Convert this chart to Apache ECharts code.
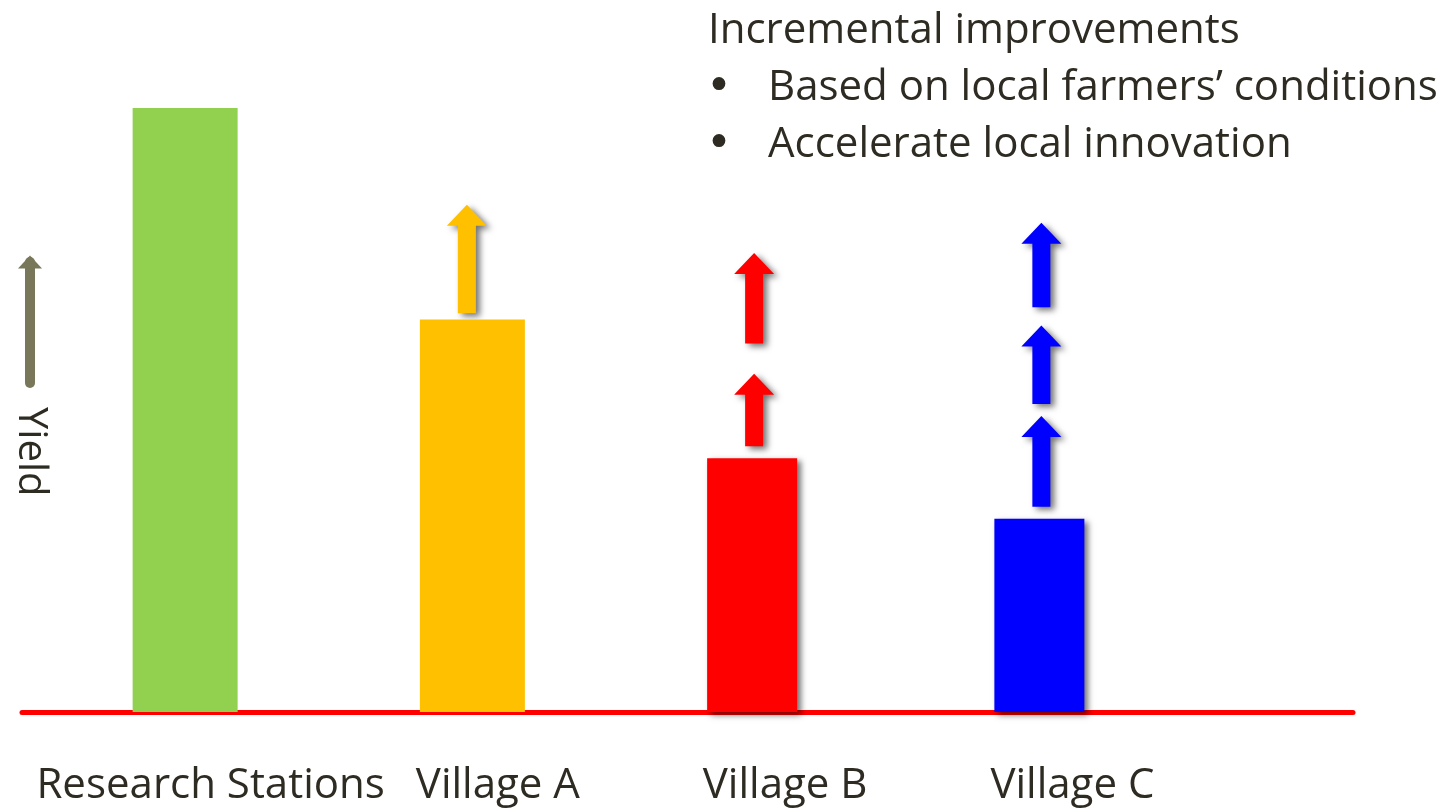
<!DOCTYPE html>
<html>
<head>
<meta charset="utf-8">
<title>Yield gap</title>
<script src="https://cdn.jsdelivr.net/npm/echarts@6/dist/echarts.min.js"></script>
<style>
  html, body { margin: 0; padding: 0; background: #ffffff; }
  #chart { width: 1441px; height: 809px; }
</style>
</head>
<body>
<div id="chart"></div>
<script>
// categories along the baseline
const categories = ['Research Stations', 'Village A', 'Village B', 'Village C']
// bar heights (relative yield, research station = 100)
const yieldValues = [100, 65, 42, 32]
// improvement arrows: [category index, from, to]
const improvementArrows = [
  [1, 66, 84],
  [2, 44, 56],
  [2, 61, 76],
  [3, 34, 49],
  [3, 51, 64],
  [3, 67, 81]
]
const headingLines = ['Incremental improvements']
const bulletLines = ['Based on local farmers\u2019 conditions', 'Accelerate local innovation']

const barColors = ['#92d050', '#ffc000', '#ff0000', '#0000ff']
const textColor = '#2e2b22'
const FONT = '"Open Sans", "DejaVu Sans", sans-serif'
const shadow = {
  shadowBlur: 6,
  shadowColor: 'rgba(0,0,0,0.55)',
  shadowOffsetX: 4,
  shadowOffsetY: 3
}

const chart = echarts.init(document.getElementById('chart'))

// bars: wide ones (station, village A) and narrower ones (village B, C)
const wideData = yieldValues.map((v, i) => (i < 2 ? { value: v, itemStyle: { color: barColors[i] } } : '-'))
const narrowData = yieldValues.map((v, i) =>
  i >= 2 ? { value: v, itemStyle: Object.assign({ color: barColors[i] }, shadow) } : '-'
)

let titleText = headingLines.map(t => '{h|' + t + '}').join('\n')
bulletLines.forEach(t => {
  titleText += '\n{b|\u2022}{t|' + t + '}'
})

const txt = { fontFamily: FONT, fontSize: 42, fontWeight: 'normal', color: textColor, lineHeight: 57 }

chart.setOption({
  animation: false,
  backgroundColor: '#ffffff',
  title: {
    left: 706,
    top: 3,
    padding: 0,
    text: titleText,
    textStyle: {
      fontWeight: 'normal',
      rich: {
        h: Object.assign({}, txt, { padding: [0, 0, 0, 2] }),
        b: Object.assign({}, txt, { width: 62, fontSize: 44, fontFamily: '"DejaVu Sans", sans-serif' }),
        t: txt
      }
    }
  },
  grid: [
    // baseline
    { left: 22, right: 88, top: 108, bottom: 97, outerBoundsMode: 'none' },
    // bars
    { left: 34, right: 258, top: 108, bottom: 97, outerBoundsMode: 'none' },
    // yield arrow
    { left: 30, width: 10, top: 262, bottom: 426, outerBoundsMode: 'none' }
  ],
  xAxis: [
    {
      gridIndex: 0,
      type: 'category',
      data: [''],
      axisLine: { lineStyle: { color: '#ff0000', width: 5 } },
      axisTick: { show: false },
      axisLabel: { show: false }
    },
    {
      gridIndex: 1,
      type: 'category',
      data: categories,
      axisLine: { show: false },
      axisTick: { show: false },
      axisLabel: {
        interval: 0,
        margin: 52,
        fontFamily: FONT,
        fontSize: 42,
        lineHeight: 44,
        color: textColor,
        padding: [0, 0, 0, 66]
      }
    },
    {
      gridIndex: 2,
      type: 'value',
      show: false
    }
  ],
  yAxis: [
    { gridIndex: 0, type: 'value', show: false },
    { gridIndex: 1, type: 'value', min: 0, max: 100, show: false },
    {
      gridIndex: 2,
      type: 'value',
      min: 0,
      max: 1,
      position: 'left',
      axisLine: {
        show: true,
        symbol: ['none', 'triangle'],
        symbolSize: [24, 13],
        lineStyle: { color: '#78775a', width: 10 }
      },
      axisTick: { show: false },
      axisLabel: { show: false },
      splitLine: { show: false },
      name: 'Yield',
      nameLocation: 'start',
      nameGap: 24,
      nameRotate: -90,
      nameTextStyle: { fontFamily: FONT, fontSize: 40, color: textColor }
    }
  ],
  series: [
    {
      type: 'bar',
      xAxisIndex: 1,
      yAxisIndex: 1,
      barWidth: 105,
      barGap: '-100%',
      data: wideData
    },
    {
      type: 'bar',
      xAxisIndex: 1,
      yAxisIndex: 1,
      barWidth: 90,
      barGap: '-100%',
      data: narrowData
    },
    {
      type: 'custom',
      xAxisIndex: 1,
      yAxisIndex: 1,
      data: improvementArrows,
      renderItem(params, api) {
        const c = api.value(0)
        const lo = api.coord([c, api.value(1)])
        const hi = api.coord([c, api.value(2)])
        const x = lo[0] + 2
        const yb = lo[1]
        const yt = hi[1]
        const hw = 20
        const sw = 9
        const hh = 21
        return {
          type: 'polygon',
          shape: {
            points: [
              [x - sw, yb],
              [x - sw, yt + hh],
              [x - hw, yt + hh],
              [x, yt],
              [x + hw, yt + hh],
              [x + sw, yt + hh],
              [x + sw, yb]
            ]
          },
          style: Object.assign({ fill: barColors[c] }, shadow)
        }
      }
    }
  ]
})
</script>
</body>
</html>
